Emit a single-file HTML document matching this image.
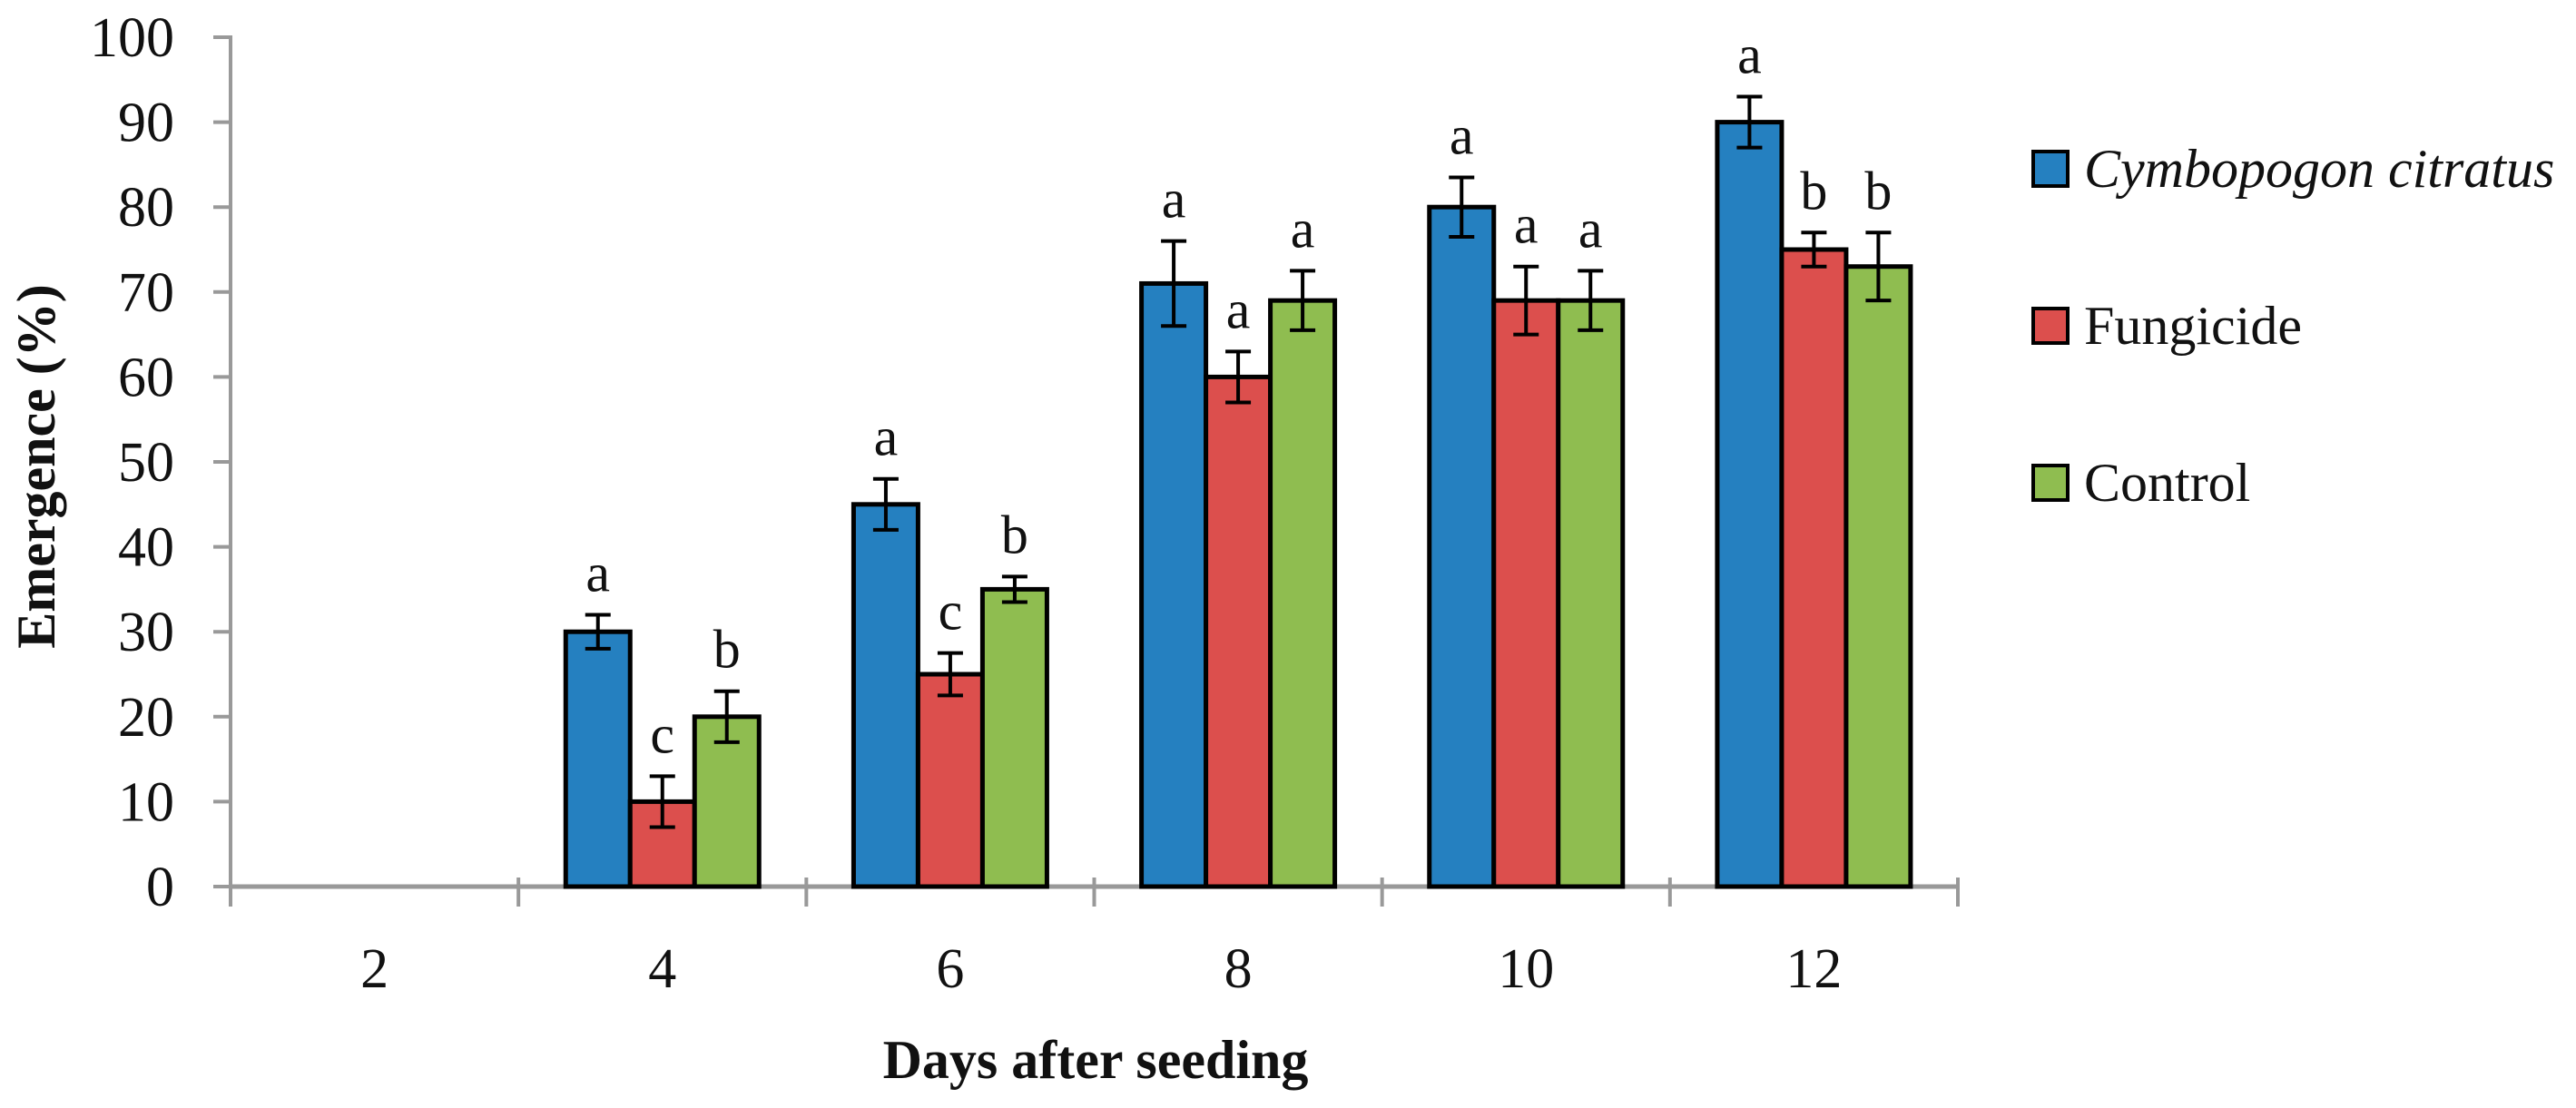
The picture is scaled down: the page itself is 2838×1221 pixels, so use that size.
<!DOCTYPE html>
<html><head><meta charset="utf-8">
<style>
html,body{margin:0;padding:0;background:#fff;}
svg{display:block;font-family:"Liberation Serif",serif;}
</style></head>
<body>
<svg id="chart" width="2838" height="1221" viewBox="0 0 2838 1221" xmlns="http://www.w3.org/2000/svg">
<g id="axes"></g>
<g id="bars"></g>
<text transform="translate(60,514) rotate(-90)" text-anchor="middle" font-weight="bold" font-size="60" fill="#111">Emergence (%)</text>
<text x="1207" y="1188" text-anchor="middle" font-weight="bold" font-size="60" fill="#111">Days after seeding</text>
<g>
<rect x="2240" y="167" width="38" height="38" fill="#2580c0" stroke="#000" stroke-width="4"/>
<text x="2296" y="206" font-size="60" font-style="italic" fill="#111">Cymbopogon citratus</text>
<rect x="2240" y="340" width="38" height="38" fill="#dc4f4d" stroke="#000" stroke-width="4"/>
<text x="2296" y="379" font-size="60" fill="#111">Fungicide</text>
<rect x="2240" y="513" width="38" height="38" fill="#8fbd50" stroke="#000" stroke-width="4"/>
<text x="2296" y="552" font-size="60" fill="#111">Control</text>
</g>
</svg>
<script>
const categories = ["2","4","6","8","10","12"];
const cymbopogon = [0,30,45,71,80,90];
const fungicide = [0,10,25,60,69,75];
const control = [0,20,35,69,69,73];
const cymbopogonErr = [0,2,3,5,3.5,3];
const fungicideErr = [0,3,2.5,3,4,2];
const controlErr = [0,3,1.5,3.5,3.5,4];
const cymbopogonLetters = ["","a","a","a","a","a"];
const fungicideLetters = ["","c","c","a","a","b"];
const controlLetters = ["","b","b","a","a","b"];
const yTicks = [0,10,20,30,40,50,60,70,80,90,100];

const NS = "http://www.w3.org/2000/svg";
const X0 = 254, X1 = 2157, Y0 = 977, Y100 = 41;
const catW = (X1 - X0) / categories.length;
const barW = 71;
function yScale(v){ return Y0 - (v/100)*(Y0 - Y100); }
function xCenter(i){ return X0 + catW*(i+0.5); }
function mk(tag, attrs, parent){
  const e = document.createElementNS(NS, tag);
  for (const k in attrs) e.setAttribute(k, attrs[k]);
  parent.appendChild(e);
  return e;
}
const axes = document.getElementById('axes');
const bars = document.getElementById('bars');

yTicks.forEach(t => {
  const y = yScale(t);
  const tk = mk('line', {x1:235, x2:X0, y1:y, y2:y, stroke:'#999', 'stroke-width':4}, axes);
  
  
  const lb = mk('text', {x:192, y:y+21, 'text-anchor':'end', 'font-size':62, fill:'#111'}, axes);
  lb.textContent = t;
  
  
});
const ya = mk('line', {x1:X0, x2:X0, y1:Y100-2, y2:Y0+20, stroke:'#999', 'stroke-width':4}, axes);


const xa = mk('line', {x1:X0, x2:X1, y1:Y0, y2:Y0, stroke:'#999', 'stroke-width':5}, axes);


for (let i=0;i<=categories.length;i++){
  const x = X0 + catW*i;
  const tk = mk('line', {x1:x, x2:x, y1:Y0-10, y2:Y0+22, stroke:'#999', 'stroke-width':4}, axes);
  
  
}
categories.forEach((c,i) => {
  const lb = mk('text', {x:xCenter(i), y:1088, 'text-anchor':'middle', 'font-size':62, fill:'#111'}, axes);
  lb.textContent = c;
  
  
});

const series = [
  {name:'cymbopogon', vals:cymbopogon, err:cymbopogonErr, letters:cymbopogonLetters, color:'#2580c0'},
  {name:'fungicide', vals:fungicide, err:fungicideErr, letters:fungicideLetters, color:'#dc4f4d'},
  {name:'control', vals:control, err:controlErr, letters:controlLetters, color:'#8fbd50'}
];
series.forEach((s, si) => {
  s.vals.forEach((v, i) => {
    if (v <= 0) return;
    const x = xCenter(i) - 1.5*barW + si*barW;
    const y = yScale(v);
    const r = mk('rect', {x:x, y:y, width:barW, height:Y0-y, fill:s.color, stroke:'#000', 'stroke-width':5}, bars);
    
    
    const cx = x + barW/2;
    const yt = yScale(v + s.err[i]), yb = yScale(v - s.err[i]);
    const eb = mk('path', {d:`M${cx},${yt}V${yb}M${cx-14},${yt}H${cx+14}M${cx-14},${yb}H${cx+14}`, stroke:'#000', 'stroke-width':4, fill:'none'}, bars);
    
    
    const lt = mk('text', {x:cx, y:yt-26, 'text-anchor':'middle', 'font-size':60, fill:'#111'}, bars);
    lt.textContent = s.letters[i];
    
    
  });
});
</script>
</body></html>
